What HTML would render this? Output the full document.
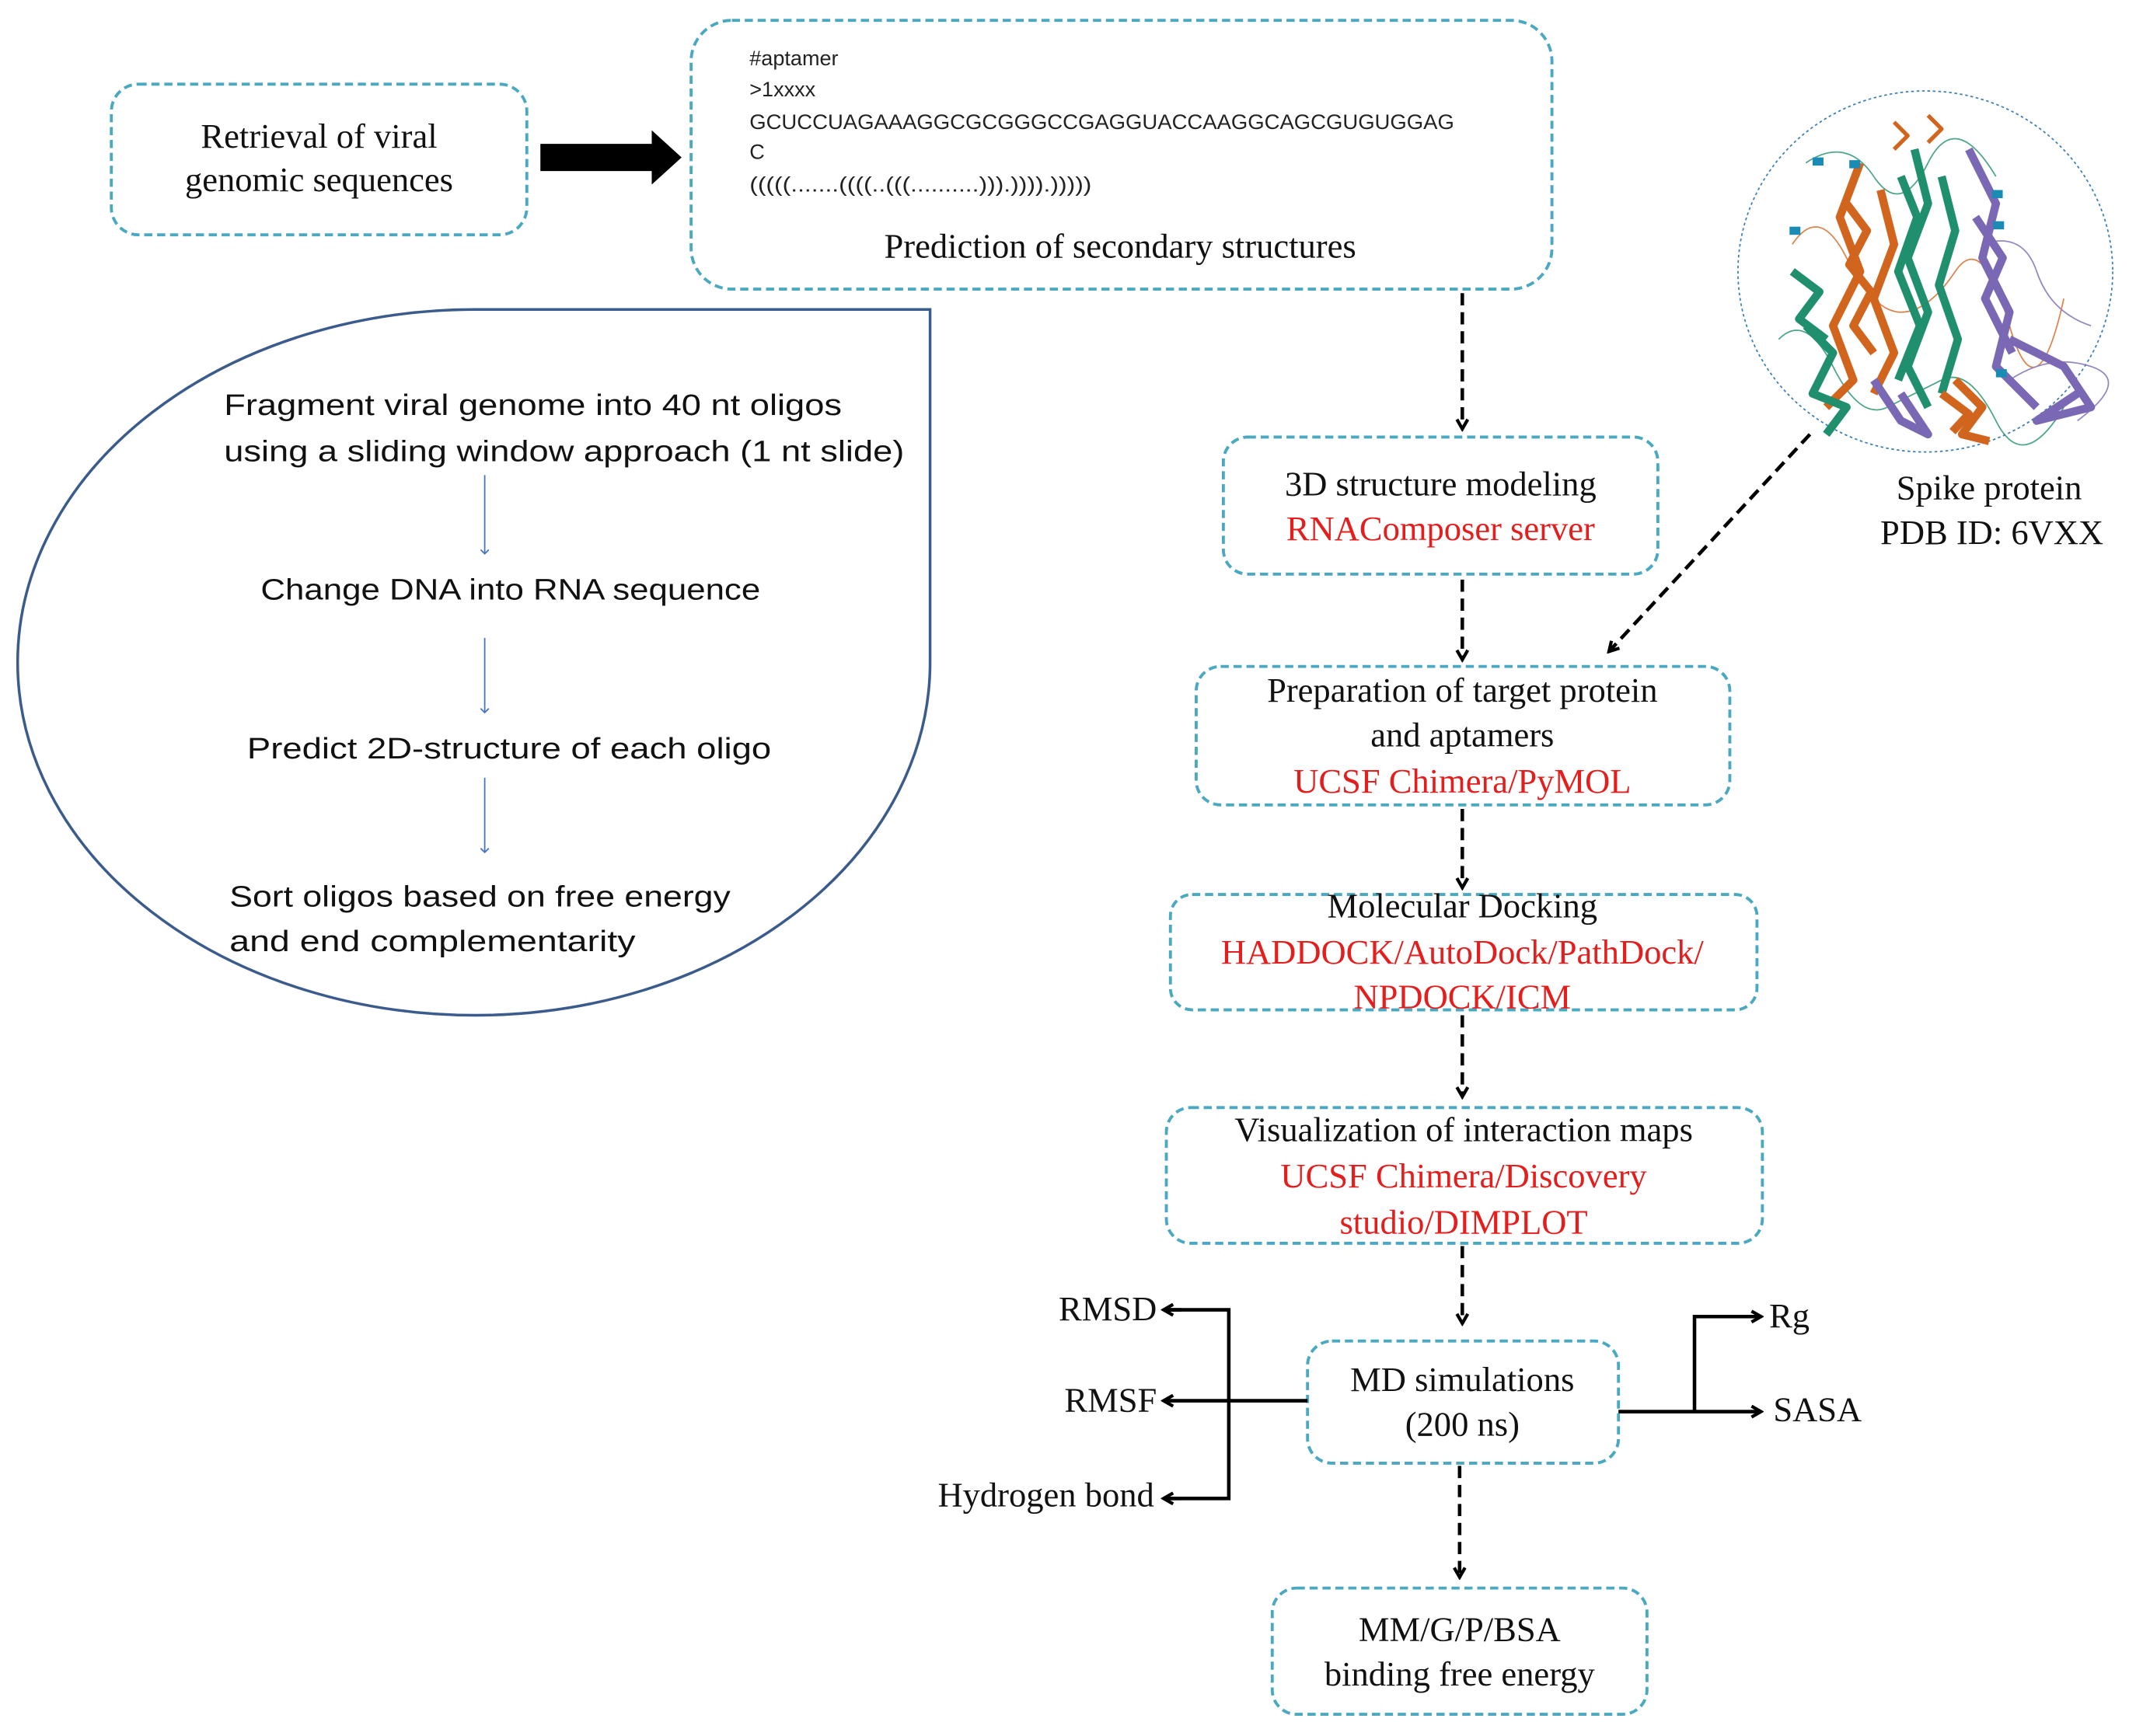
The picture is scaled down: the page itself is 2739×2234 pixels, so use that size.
<!DOCTYPE html>
<html><head><meta charset="utf-8"><style>
html,body{margin:0;padding:0;background:#fff;}
svg{display:block;}
.s{font-family:"Liberation Serif",serif;font-size:25.5px;fill:#111;}
.r{fill:#e41d1d;}
.a{font-family:"Liberation Sans",sans-serif;font-size:22px;fill:#111;}
.m{font-family:"Liberation Sans",sans-serif;font-size:15.5px;fill:#222;}
.box{fill:#fff;stroke:#4aa8c0;stroke-width:2.2;stroke-dasharray:6 3.5;}
.d{stroke:#000;stroke-width:2.6;stroke-dasharray:9 5;fill:none;}
.l{stroke:#000;stroke-width:2.6;fill:none;}
</style></head><body>
<svg width="2739" height="2234" viewBox="0 0 1568 1279" preserveAspectRatio="none" xmlns="http://www.w3.org/2000/svg">
<defs>
<marker id="ah" markerWidth="10" markerHeight="10" refX="8" refY="5" orient="auto" markerUnits="userSpaceOnUse"><path d="M1,1 L8,5 L1,9" fill="none" stroke="#000" stroke-width="2.4"/></marker>
<marker id="bh" markerWidth="8" markerHeight="8" refX="4" refY="4" orient="auto" markerUnits="userSpaceOnUse"><path d="M1,1 L4,4 L1,7" fill="none" stroke="#4472c4" stroke-width="1"/></marker>
</defs>
<g transform="translate(0,2)">
<!-- Box 1 -->
<rect class="box" x="82" y="60" width="306" height="111" rx="20"/>
<text class="s" x="235" y="101" text-anchor="middle" dominant-baseline="middle">Retrieval of viral</text>
<text class="s" x="235" y="133" text-anchor="middle" dominant-baseline="middle">genomic sequences</text>
</g>
<!-- thick arrow -->
<path d="M398,106 L480,106 L480,96 L502,116 L480,136 L480,126 L398,126 Z" fill="#000"/>
<!-- Box 2 -->
<rect class="box" x="509" y="15" width="634" height="198" rx="30"/>
<text class="m" x="552" y="44" dominant-baseline="middle">#aptamer</text>
<text class="m" x="552" y="67" dominant-baseline="middle">&gt;1xxxx</text>
<text class="m" x="552" y="91" dominant-baseline="middle" textLength="519" lengthAdjust="spacingAndGlyphs">GCUCCUAGAAAGGCGCGGGCCGAGGUACCAAGGCAGCGUGUGGAG</text>
<text class="m" x="552" y="113" dominant-baseline="middle">C</text>
<text class="m" x="552" y="137" dominant-baseline="middle" textLength="252" lengthAdjust="spacingAndGlyphs">(((((.......((((..(((..........))).)))).)))))</text>
<text class="s" x="825" y="184" text-anchor="middle" dominant-baseline="middle">Prediction of  secondary structures</text>
<!-- Protein -->
<ellipse cx="1418" cy="200" rx="138" ry="133" fill="#fff" stroke="#3a7fb8" stroke-width="1" stroke-dasharray="2 2"/>
<g fill="none" stroke-width="1" opacity="0.8">
<path d="M1320,180 Q1340,150 1360,190 T1400,230 T1440,200 T1480,240 T1520,220" stroke="#d2651e"/>
<path d="M1310,250 Q1330,230 1350,270 T1390,300 T1430,280 T1470,310 T1520,300" stroke="#1f8f6e"/>
<path d="M1460,180 Q1490,170 1500,200 T1540,240" stroke="#7a68b4"/>
<path d="M1330,120 Q1360,100 1380,130 T1420,120 T1470,130" stroke="#1f8f6e"/>
<path d="M1480,280 Q1510,260 1540,270 T1530,310" stroke="#7a68b4"/>
</g>
<g fill="none" stroke-width="6" stroke-linejoin="round">
<path d="M1370,120 L1355,160 L1370,200 L1350,240 L1365,280 L1345,300" stroke="#d2651e"/>
<path d="M1385,140 L1395,180 L1380,220 L1395,260 L1380,290" stroke="#d2651e"/>
<path d="M1360,150 L1375,170 L1362,195 L1378,215 L1365,240 L1380,260" stroke="#d2651e"/>
<path d="M1410,110 L1420,150 L1405,190 L1420,230 L1405,270 L1420,300" stroke="#1f8f6e"/>
<path d="M1430,130 L1440,170 L1428,210 L1442,250 L1430,290" stroke="#1f8f6e"/>
<path d="M1400,130 L1412,160 L1398,200 L1414,240 L1398,280" stroke="#1f8f6e"/>
<path d="M1330,240 L1350,260 L1335,290 L1360,300 L1345,320" stroke="#1f8f6e"/>
<path d="M1320,200 L1340,215 L1325,235 L1345,250" stroke="#1f8f6e"/>
<path d="M1450,110 L1470,150 L1460,190 L1480,230 L1470,270 L1500,300" stroke="#7a68b4"/>
<path d="M1455,160 L1475,190 L1462,220 L1482,260" stroke="#7a68b4"/>
<path d="M1480,250 L1520,270 L1540,300 L1500,310 L1530,290" stroke="#7a68b4"/>
<path d="M1440,280 L1460,300 L1445,320 L1465,325" stroke="#d2651e"/>
<path d="M1430,290 L1450,305 L1438,318" stroke="#d2651e"/>
<path d="M1395,90 L1405,100 L1395,110 M1420,85 L1430,95 L1420,105" stroke="#d2651e" stroke-width="3"/>
<path d="M1380,280 L1400,310 L1420,320 L1400,290" stroke="#7a68b4"/>
</g>
<g fill="#1a8bb5">
<rect x="1335" y="116" width="8" height="6"/><rect x="1362" y="118" width="8" height="6"/><rect x="1467" y="140" width="8" height="6"/><rect x="1318" y="167" width="8" height="6"/><rect x="1468" y="163" width="8" height="6"/><rect x="1470" y="272" width="8" height="6"/>
</g>
<text class="s" x="1465" y="362" text-anchor="middle" dominant-baseline="middle">Spike protein</text>
<text class="s" x="1467" y="395" text-anchor="middle" dominant-baseline="middle">PDB ID: 6VXX</text>
<!-- Left teardrop -->
<path d="M685,228 L685,488 A335,260 0 0 1 350,748 A337,260 0 0 1 13,488 A337,260 0 0 1 350,228 Z" fill="#fff" stroke="#3b5b8c" stroke-width="2"/>
<text class="a" x="165" y="300" dominant-baseline="middle" textLength="455" lengthAdjust="spacingAndGlyphs">Fragment viral genome into 40 nt oligos</text>
<text class="a" x="165" y="334" dominant-baseline="middle" textLength="501" lengthAdjust="spacingAndGlyphs">using a sliding window approach (1 nt slide)</text>
<line x1="357" y1="350" x2="357" y2="408" stroke="#4472c4" stroke-width="1" marker-end="url(#bh)"/>
<text class="a" x="192" y="436" dominant-baseline="middle" textLength="368" lengthAdjust="spacingAndGlyphs">Change DNA into RNA sequence</text>
<line x1="357" y1="470" x2="357" y2="525" stroke="#4472c4" stroke-width="1" marker-end="url(#bh)"/>
<text class="a" x="182" y="553" dominant-baseline="middle" textLength="386" lengthAdjust="spacingAndGlyphs">Predict 2D-structure of each oligo</text>
<line x1="357" y1="573" x2="357" y2="628" stroke="#4472c4" stroke-width="1" marker-end="url(#bh)"/>
<text class="a" x="169" y="662" dominant-baseline="middle" textLength="369" lengthAdjust="spacingAndGlyphs">Sort oligos based on free energy</text>
<text class="a" x="169" y="695" dominant-baseline="middle" textLength="299" lengthAdjust="spacingAndGlyphs">and end complementarity</text>
<!-- right flow -->
<line class="d" x1="1077" y1="216" x2="1077" y2="316" marker-end="url(#ah)"/>
<rect class="box" x="901" y="322" width="320" height="101" rx="18"/>
<text class="s" x="1061" y="359" text-anchor="middle" dominant-baseline="middle">3D structure modeling</text>
<text class="s r" x="1061" y="392" text-anchor="middle" dominant-baseline="middle">RNAComposer server</text>
<line class="d" x1="1077" y1="427" x2="1077" y2="486" marker-end="url(#ah)"/>
<line class="d" x1="1333" y1="320" x2="1185" y2="480" marker-end="url(#ah)"/>
<rect class="box" x="881" y="491" width="393" height="102" rx="18"/>
<text class="s" x="1077" y="511" text-anchor="middle" dominant-baseline="middle">Preparation of target protein</text>
<text class="s" x="1077" y="544" text-anchor="middle" dominant-baseline="middle">and aptamers</text>
<text class="s r" x="1077" y="578" text-anchor="middle" dominant-baseline="middle">UCSF Chimera/PyMOL</text>
<line class="d" x1="1077" y1="596" x2="1077" y2="654" marker-end="url(#ah)"/>
<rect class="box" x="862" y="659" width="432" height="85" rx="16"/>
<text class="s" x="1077" y="670" text-anchor="middle" dominant-baseline="middle">Molecular Docking</text>
<text class="s r" x="1077" y="704" text-anchor="middle" dominant-baseline="middle">HADDOCK/AutoDock/PathDock/</text>
<text class="s r" x="1077" y="737" text-anchor="middle" dominant-baseline="middle">NPDOCK/ICM</text>
<line class="d" x1="1077" y1="748" x2="1077" y2="808" marker-end="url(#ah)"/>
<rect class="box" x="859" y="816" width="439" height="100" rx="18"/>
<text class="s" x="1078" y="835" text-anchor="middle" dominant-baseline="middle">Visualization of  interaction maps</text>
<text class="s r" x="1078" y="869" text-anchor="middle" dominant-baseline="middle">UCSF Chimera/Discovery</text>
<text class="s r" x="1078" y="903" text-anchor="middle" dominant-baseline="middle">studio/DIMPLOT</text>
<line class="d" x1="1077" y1="918" x2="1077" y2="975" marker-end="url(#ah)"/>
<rect class="box" x="963" y="988" width="229" height="90" rx="18"/>
<text class="s" x="1077" y="1019" text-anchor="middle" dominant-baseline="middle">MD simulations</text>
<text class="s" x="1077" y="1052" text-anchor="middle" dominant-baseline="middle">(200 ns)</text>
<!-- left branches -->
<line class="l" x1="963" y1="1032" x2="857" y2="1032" marker-end="url(#ah)"/>
<polyline class="l" points="857,965 905,965 905,1104 857,1104"/>
<line class="l" x1="870" y1="965" x2="857" y2="965" marker-end="url(#ah)"/>
<line class="l" x1="870" y1="1104" x2="857" y2="1104" marker-end="url(#ah)"/>
<text class="s" x="852" y="967" text-anchor="end" dominant-baseline="middle">RMSD</text>
<text class="s" x="852" y="1034" text-anchor="end" dominant-baseline="middle">RMSF</text>
<text class="s" x="850" y="1104" text-anchor="end" dominant-baseline="middle">Hydrogen bond</text>
<!-- right branches -->
<line class="l" x1="1192" y1="1040" x2="1297" y2="1040" marker-end="url(#ah)"/>
<polyline class="l" points="1248,1040 1248,970 1297,970" marker-end="url(#ah)"/>
<text class="s" x="1303" y="972" dominant-baseline="middle">Rg</text>
<text class="s" x="1306" y="1041" dominant-baseline="middle">SASA</text>
<line class="d" x1="1075" y1="1080" x2="1075" y2="1162" marker-end="url(#ah)"/>
<rect class="box" x="937" y="1170" width="276" height="93" rx="18"/>
<text class="s" x="1075" y="1203" text-anchor="middle" dominant-baseline="middle">MM/G/P/BSA</text>
<text class="s" x="1075" y="1236" text-anchor="middle" dominant-baseline="middle">binding free energy</text>
</svg>
</body></html>
